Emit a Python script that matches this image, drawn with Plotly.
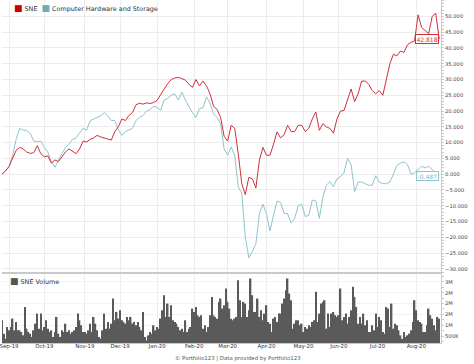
import pandas as pd
import plotly.graph_objects as go

# ---------------- data ----------------
holidays = ["2019-09-02", "2019-11-28", "2019-12-25", "2020-01-01", "2020-01-20",
            "2020-02-17", "2020-04-10", "2020-05-25", "2020-07-03"]
trade_days = [d.strftime("%Y-%m-%d") for d in pd.bdate_range("2019-08-27", "2020-08-20")
              if d.strftime("%Y-%m-%d") not in holidays]
line_days = trade_days[::2]

month_labels = ["Sep-19", "Oct-19", "Nov-19", "Dec-19", "Jan-20", "Feb-20",
                "Mar-20", "Apr-20", "May-20", "Jun-20", "Jul-20", "Aug-20"]

sne_return = [
    0, 1, 2.5, 5, 7.5, 8.5, 8, 7, 6.6, 6.8,
    9, 6.5, 5.5, 5.8, 3.5, 4.5, 4, 5.5, 7, 8,
    7.2, 6.5, 8, 10.5, 10.2, 11, 11.5, 12.3, 11.8, 11.5,
    11, 10.8, 13.5, 15, 17.5, 17, 18.6, 19.5, 22, 22.5,
    22.2, 22.6, 22.4, 22.7, 23.4, 25, 27, 28.7, 30, 30.5,
    30.7, 30.3, 29.8, 28.5, 27.5, 30, 28, 29.5, 28, 25.5,
    21.5, 20.5, 18, 12, 10.5, 15.5, 14.5, 6.5, -3, -6.5,
    -1, -1.5, -4.4, 4.5, 8.5, 6, 6, 9.5, 13.4, 11.5,
    12.5, 15.5, 13.5, 13.5, 15.5, 15.5, 13.5, 14.5, 17.5, 19.7,
    13.9, 16, 15, 14.5, 13, 17.5, 20, 20.2, 23.9, 27,
    23, 25.5, 29.5, 29.5, 28.5, 26.5, 25.5, 26.5, 25, 30.5,
    35, 38, 37.5, 39, 38.6, 41, 41.8, 42.2, 50.5, 46.5,
    45.5, 44.5, 50, 51, 42.818,
]

chs_return = [
    0, 1, 2.2, 6, 11, 14.5, 14, 13.8, 13, 10.5,
    10.3, 10.5, 8.5, 7, 4, 2.2, 4.5, 6.5, 8.5, 9.5,
    11, 11.5, 13, 14.5, 14, 17, 17.5, 18, 18.5, 19.5,
    18.5, 17, 17, 14, 12.3, 13.5, 14, 14.5, 17, 18,
    18.6, 20, 20.5, 21.5, 21.2, 20.2, 23.5, 24, 25, 25.5,
    23.5, 26, 23.5, 21.5, 19.5, 18, 20.8, 21, 24.5, 22.5,
    19, 18, 16, 8, 6, 8.6, 6, -4, -6, -20,
    -26.5, -24.5, -22, -12.5, -9.5, -12.5, -18, -13, -8.5, -9,
    -12.4, -12.5, -15.5, -14, -10, -9.5, -13.4, -13, -8.2, -8.5,
    -14, -7.2, -3.5, -2.4, -4, -1.5, -0.8, 0.5, 5, 3,
    -5.5, -2.5, -2.5, -3, -3.5, -3.5, -0.5, -2.5, -3, -3,
    -2.5, 0, 2.8, 3.5, 3.9, 3, 0, 0.5, 1.5, 2.5,
    2, 2.5, 1.5, 0.5, -0.487,
]

sne_volume_k = [
    1227, 610, 379, 919, 764, 919, 1304, 764, 1150, 764, 764, 687, 533, 1844, 841, 687,
    610, 456, 764, 1073, 1536, 841, 1536, 764, 919, 1227, 841, 687, 764, 456, 687, 1382,
    610, 456, 764, 687, 1073, 687, 764, 610, 687, 764, 919, 1536, 1227, 996, 687, 687,
    610, 764, 1073, 687, 1382, 1073, 764, 456, 379, 764, 1536, 841, 1150, 841, 1073, 2230,
    1227, 1613, 1304, 1690, 1227, 1150, 1073, 1382, 1227, 1382, 1073, 1150, 996, 1150, 919, 764,
    1613, 456, 301, 533, 687, 610, 996, 764, 919, 841, 1304, 1690, 2385, 1382, 1999, 1382,
    1922, 1227, 1150, 1073, 919, 764, 841, 687, 1227, 687, 841, 919, 1767, 1613, 1844, 1459,
    1382, 1459, 841, 996, 687, 919, 1459, 2307, 1459, 1382, 1304, 2076, 2230, 1767, 1922, 2693,
    2076, 1767, 1304, 1227, 1304, 1382, 3079, 2153,
    1382, 2076, 1999, 1382, 1690, 3156, 2385, 1613, 1613, 2230, 1382, 1690, 1227, 1536, 1922, 1150,
    1073, 687, 1304, 1382, 1150, 1536, 1536, 1999, 2230, 2616, 3156, 2462, 2153, 841, 1073, 1227,
    1227, 996, 1073, 687, 919, 841, 996, 919, 1150, 1227, 2539, 1150, 1536, 1999, 2076, 2153,
    841, 1536, 919, 1536, 1613, 1459, 1382, 1459, 2693, 1227, 1382, 1536, 1073, 1382, 1690, 2770,
    2307, 1844, 1073, 1382, 1073, 1536, 996, 1227, 687, 687, 996, 764, 1536, 919, 1382, 1227,
    687, 610, 1844, 1767, 919, 1999, 841, 1073, 996, 764, 533, 379, 687, 456, 533, 610,
    764, 1150, 2153, 1690, 1227, 1150, 1073, 687, 687, 996, 1767, 1459, 1304, 996, 764, 1382,
    1304,
]
sne_volume = [v * 1000 for v in sne_volume_k]

vol_tickvals = [500000, 1000000, 1500000, 2000000, 2500000, 3000000]
vol_ticktext = ["500K", "1M", "2M", "2M", "2M", "3M"]
ret_tickvals = list(range(-30, 60, 5))

assert len(trade_days) == 249, len(trade_days)
assert len(sne_return) == len(line_days) == len(chs_return), (len(sne_return), len(chs_return), len(line_days))
assert len(sne_volume) == len(trade_days), len(sne_volume)

month_starts = []
for lab in month_labels:
    ym = pd.to_datetime(lab, format="%b-%y").strftime("%Y-%m")
    month_starts.append(next(d for d in trade_days if d.startswith(ym)))

# ---------------- style ----------------
RED = "#d0303b"
TEAL = "#8fc4cc"
GRID = "#ececec"
AXIS = "#c9c9c9"
FONT = "DejaVu Sans"
TICKFONT = dict(size=5.2, color="#444444", family=FONT)

fig = go.Figure()
fig.add_trace(go.Bar(x=trade_days, y=sne_volume, xaxis="x2", yaxis="y2",
                     marker=dict(color="#5a5a5a", line=dict(width=0)),
                     showlegend=False, hoverinfo="skip"))
fig.add_trace(go.Scatter(x=line_days, y=chs_return, mode="lines",
                         line=dict(color=TEAL, width=1), showlegend=False))
fig.add_trace(go.Scatter(x=line_days, y=sne_return, mode="lines",
                         line=dict(color=RED, width=1), showlegend=False))

xcommon = dict(type="category", categoryorder="array", categoryarray=trade_days,
               range=[0, 249], tickvals=month_starts, showgrid=True, gridcolor=GRID,
               gridwidth=1, showline=True, linecolor=AXIS, linewidth=1, ticks="",
               fixedrange=True)

fig.update_layout(
    width=474, height=364,
    margin=dict(l=0, r=33, t=0, b=21),
    paper_bgcolor="white", plot_bgcolor="white",
    bargap=0.15,
    font=dict(family=FONT, color="#444444", size=6),
    xaxis=dict(**xcommon, domain=[0, 1], anchor="y", showticklabels=False),
    xaxis2=dict(**xcommon, domain=[0, 1], anchor="y2", ticktext=month_labels,
                showticklabels=True, mirror=True, ticklabelstandoff=-2,
                tickfont=dict(size=5.4, color="#333333", family=FONT)),
    yaxis=dict(domain=[0.207, 1], side="right", range=[-31, 55.2],
               tickvals=ret_tickvals, tickformat=".3f", ticksuffix="%",
               showgrid=True, gridcolor=GRID, zeroline=False,
               showline=True, linecolor=AXIS, ticks="outside", ticklen=2,
               tickcolor=AXIS, ticklabelstandoff=0,
               minor=dict(dtick=1, ticks="outside", ticklen=1.5, tickcolor=AXIS),
               tickfont=TICKFONT),
    yaxis2=dict(domain=[0, 0.201], side="right", range=[180000, 3360000],
                tickvals=vol_tickvals, ticktext=vol_ticktext,
                showgrid=True, gridcolor="#f2f2f2", zeroline=False,
                showline=True, linecolor=AXIS, ticks="outside", ticklen=2,
                tickcolor=AXIS, ticklabelstandoff=0,
                minor=dict(dtick=250000, ticks="outside", ticklen=1.5, tickcolor=AXIS),
                tickfont=TICKFONT),
)

# legends
fig.add_annotation(xref="paper", yref="paper", x=10 / 441, y=1 - 8 / 343,
                   xanchor="left", yanchor="middle", showarrow=False,
                   text=('<span style="color:#cc0000;font-size:9px">■</span> SNE  '
                         '<span style="color:#6aaebb;font-size:9px">■</span> Computer Hardware and Storage'),
                   font=dict(size=6.4, color="#333333", family=FONT))
fig.add_annotation(xref="paper", yref="paper", x=6 / 441, y=1 - 281 / 343,
                   xanchor="left", yanchor="middle", showarrow=False,
                   text='<span style="color:#555555;font-size:9px">■</span> SNE Volume',
                   font=dict(size=6.4, color="#333333", family=FONT))

# end-value labels
fig.add_annotation(x=line_days[-1], y=sne_return[-1], xref="x", yref="y",
                   xanchor="right", yanchor="middle", showarrow=False,
                   text=f"{sne_return[-1]:.3f}", bgcolor="white", bordercolor=RED,
                   borderwidth=1, borderpad=0.5,
                   font=dict(size=6, color=RED, family=FONT))
fig.add_annotation(x=line_days[-1], y=chs_return[-1], xref="x", yref="y",
                   xanchor="right", yanchor="middle", showarrow=False,
                   text=f"{chs_return[-1]:.3f}", bgcolor="white", bordercolor=TEAL,
                   borderwidth=1, borderpad=0.5,
                   font=dict(size=6, color="#7ab6bf", family=FONT))

# footer
fig.add_annotation(xref="paper", yref="paper", x=237 / 441, y=-15 / 343,
                   xanchor="center", yanchor="middle", showarrow=False,
                   text="© Portfolio123 | Data provided by Portfolio123",
                   font=dict(size=5.4, color="#555555", family=FONT))

fig.write_html("out.html",
               config={"displayModeBar": False},
               post_script="document.body.style.margin='0';document.body.style.padding='0';")
